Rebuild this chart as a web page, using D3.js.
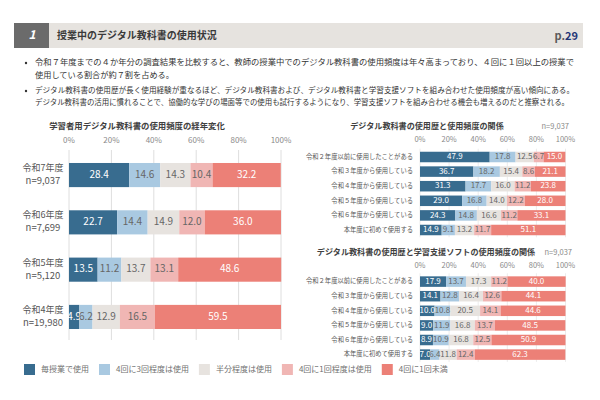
<!DOCTYPE html>
<html>
<head>
<meta charset="utf-8">
<script src="https://cdn.jsdelivr.net/npm/d3@7"></script>
<style>
  body { margin: 0; background: #fff; }
  svg text { font-family: "Noto Sans CJK JP", "Noto Sans", sans-serif; }
</style>
</head>
<body>
<div id="root"></div>
<script>
// data
const series = ['毎授業で使用', '4回に3回程度は使用', '半分程度は使用', '4回に1回程度は使用', '4回に1回未満'];
const colors = ['#386c8f', '#a9c9e1', '#e7e3df', '#f0b6b4', '#ec8077'];
const ticks = [0, 20, 40, 60, 80, 100];

const years = ['令和7年度', '令和6年度', '令和5年度', '令和4年度'];
const yearN = ['n=9,037', 'n=7,699', 'n=5,120', 'n=19,980'];
const trendValues = [
    [28.4, 14.6, 14.3, 10.4, 32.2],
    [22.7, 14.4, 14.9, 12.0, 36.0],
    [13.5, 11.2, 13.7, 13.1, 48.6],
    [4.9, 6.2, 12.9, 16.5, 59.5]
];

const history = ['令和２年度以前に使用したことがある', '令和３年度から使用している', '令和４年度から使用している',
    '令和５年度から使用している', '令和６年度から使用している', '本年度に初めて使用する'];
const textbookValues = [
    [47.9, 17.8, 12.5, 6.7, 15.0],
    [36.7, 18.2, 15.4, 8.6, 21.1],
    [31.3, 17.7, 16.0, 11.2, 23.8],
    [29.0, 16.8, 14.0, 12.2, 28.0],
    [24.3, 14.8, 16.6, 11.2, 33.1],
    [14.9, 9.1, 13.2, 11.7, 51.1]
];
const softwareValues = [
    [17.9, 13.7, 17.3, 11.2, 40.0],
    [14.1, 12.8, 16.4, 12.6, 44.1],
    [10.0, 10.8, 20.5, 14.1, 44.6],
    [9.0, 11.9, 16.8, 13.7, 48.5],
    [8.9, 10.9, 16.8, 12.5, 50.9],
    [7.0, 6.4, 11.8, 12.4, 62.3]
];

const bullets = [
    ['令和７年度までの４か年分の調査結果を比較すると、教師の授業中でのデジタル教科書の使用頻度は年々高まっており、４回に１回以上の授業で',
     '使用している割合が約７割を占める。'],
    ['デジタル教科書の使用歴が長く使用経験が重なるほど、デジタル教科書および、デジタル教科書と学習支援ソフトを組み合わせた使用頻度が高い傾向にある。',
     'デジタル教科書の活用に慣れることで、協働的な学びの場面等での使用も試行するようになり、学習支援ソフトを組み合わせる機会も増えるのだと推察される。']
];

const width = 600;
const height = 400;
const svg = d3.select('#root')
    .append('svg')
        .attr('width', width)
        .attr('height', height);

// header
svg.append('rect').attr('x', 14).attr('y', 23).attr('width', 569).attr('height', 25).attr('fill', '#e6e3df');
svg.append('rect').attr('x', 14).attr('y', 23).attr('width', 35).attr('height', 25).attr('fill', '#6b6b6b');
svg.append('text').attr('x', 32).attr('y', 36).attr('text-anchor', 'middle').attr('dominant-baseline', 'middle')
    .attr('fill', '#fff').attr('font-size', 12).attr('font-weight', 'bold').attr('font-style', 'italic').text('1');
svg.append('text').attr('x', 57).attr('y', 36).attr('dominant-baseline', 'middle')
    .attr('fill', '#3a3a3a').attr('font-size', 10).attr('font-weight', 'bold').text('授業中のデジタル教科書の使用状況');
const page = svg.append('text').attr('x', 578).attr('y', 36.5).attr('text-anchor', 'end').attr('dominant-baseline', 'middle')
    .attr('font-size', 11).attr('font-weight', 'bold');
page.append('tspan').attr('fill', '#5a5a5a').text('p.');
page.append('tspan').attr('fill', '#1f3576').text('29');

// bullets
const lineY = [[63, 75.5], [91, 103]];
bullets.forEach((lines, i) => {
    svg.append('circle').attr('cx', 26).attr('cy', lineY[i][0]).attr('r', 1.2).attr('fill', '#333');
    lines.forEach((t, j) => {
        const el = svg.append('text').attr('x', 35).attr('y', lineY[i][j]).attr('dominant-baseline', 'middle')
            .attr('fill', '#333').attr('font-size', i === 0 ? 8.2 : 7.6).text(t);
        if (!(i === 0 && j === 1)) el.attr('textLength', i === 1 && j === 1 ? 534 : 539).attr('lengthAdjust', 'spacingAndGlyphs');
    });
});

const stack = d3.stack().keys(d3.range(series.length));

// generic stacked bar chart
function drawStacked(opts) {
    const { cats, values, x0, x1, y0, y1, pad, tickY, gridTop, gridBottom, numSize, tickSize, gridColor } = opts;
    const g = svg.append('g');
    const x = d3.scaleLinear().domain([0, 100]).range([x0, x1]);
    const y = d3.scaleBand().domain(cats).range([y0, y1]).paddingInner(pad).paddingOuter(pad / 2);

    g.selectAll('.grid').data(ticks).enter().append('line')
        .attr('x1', d => x(d)).attr('x2', d => x(d))
        .attr('y1', gridTop).attr('y2', gridBottom)
        .attr('stroke', gridColor).attr('stroke-width', 1);

    g.selectAll('.tick').data(ticks).enter().append('text')
        .attr('x', d => x(d)).attr('y', tickY)
        .attr('text-anchor', 'middle').attr('dominant-baseline', 'middle')
        .attr('fill', '#8a8a8a').attr('font-size', tickSize)
        .text(d => d + '%');

    const layers = stack(values);
    layers.forEach((layer, k) => {
        g.selectAll(null).data(layer).enter().append('rect')
            .attr('x', d => x(d[0]))
            .attr('y', (d, i) => y(cats[i]))
            .attr('width', d => x(d[1]) - x(d[0]))
            .attr('height', y.bandwidth())
            .attr('fill', colors[k]);
    });
    layers.forEach((layer, k) => {
        g.selectAll(null).data(layer).enter().append('text')
            .attr('x', d => (x(d[0]) + x(d[1])) / 2)
            .attr('y', (d, i) => y(cats[i]) + y.bandwidth() / 2)
            .attr('text-anchor', 'middle').attr('dominant-baseline', 'middle')
            .attr('fill', k === 0 || k === 4 ? '#fff' : '#666')
            .attr('font-size', numSize)
            .text((d, i) => values[i][k].toFixed(1));
    });
    return { g, x, y };
}

// left chart
svg.append('text').attr('x', 137).attr('y', 126.5).attr('text-anchor', 'middle').attr('dominant-baseline', 'middle')
    .attr('fill', '#404040').attr('font-size', 8.4).attr('font-weight', 'bold').text('学習者用デジタル教科書の使用頻度の経年変化');
const left = drawStacked({
    cats: years, values: trendValues, x0: 69, x1: 281, y0: 151.4, y1: 340.6, pad: 0.49,
    tickY: 141, gridTop: 150, gridBottom: 340, numSize: 10, tickSize: 8, gridColor: '#dedede'
});
years.forEach((yr, i) => {
    const cy = left.y(yr) + left.y.bandwidth() / 2;
    svg.append('text').attr('x', 43).attr('y', cy - 6.5).attr('text-anchor', 'middle').attr('dominant-baseline', 'middle')
        .attr('fill', '#555').attr('font-size', 9).text(yr);
    svg.append('text').attr('x', 43).attr('y', cy + 6.5).attr('text-anchor', 'middle').attr('dominant-baseline', 'middle')
        .attr('fill', '#555').attr('font-size', 9.5).text(yearN[i]);
});

// right charts
function rightChart(title, titleX, titleY, values, y0) {
    svg.append('text').attr('x', titleX).attr('y', titleY).attr('text-anchor', 'middle').attr('dominant-baseline', 'middle')
        .attr('fill', '#404040').attr('font-size', 8.1).attr('font-weight', 'bold').text(title);
    svg.append('text').attr('x', titleY > 200 ? 572 : 569).attr('y', titleY).attr('text-anchor', 'end').attr('dominant-baseline', 'middle')
        .attr('fill', '#8a8a8a').attr('font-size', 7.5).text('n=9,037');
    const c = drawStacked({
        cats: history, values, x0: 420, x1: 565.5, y0, y1: y0 + 14.6 * 6, pad: 0.28,
        tickY: titleY + 13, gridTop: y0 - 1, gridBottom: y0 + 14.6 * 6, numSize: 8, tickSize: 7.5, gridColor: '#ececec'
    });
    c.g.selectAll('.cat').data(history).enter().append('text')
        .attr('x', 413).attr('y', d => c.y(d) + c.y.bandwidth() / 2)
        .attr('text-anchor', 'end').attr('dominant-baseline', 'middle')
        .attr('fill', '#555').attr('font-size', 6.3).text(d => d);
}
rightChart('デジタル教科書の使用歴と使用頻度の関係', 427, 127, textbookValues, 149.7);
rightChart('デジタル教科書の使用歴と学習支援ソフトの使用頻度の関係', 426, 253, softwareValues, 274.3);

// legend
const legend = svg.append('g');
let lx = 24;
series.forEach((s, k) => {
    legend.append('rect').attr('x', lx).attr('y', 364).attr('width', 11).attr('height', 11).attr('fill', colors[k]);
    const t = legend.append('text').attr('x', lx + 17).attr('y', 369.5).attr('dominant-baseline', 'middle')
        .attr('fill', '#707070').attr('font-size', 8).text(s);
    lx += 17 + t.node().getComputedTextLength() + 10;
});
</script>
</body>
</html>
